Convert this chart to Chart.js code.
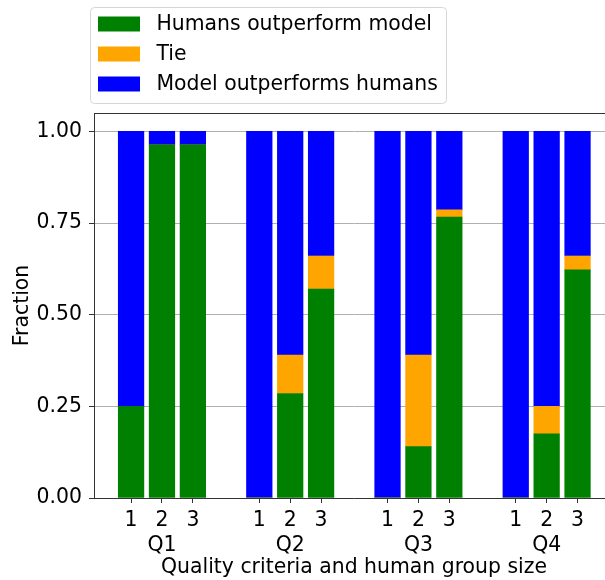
<!DOCTYPE html>
<html><head><meta charset="utf-8">
<script src="https://cdn.jsdelivr.net/npm/chart.js@4.4.0/dist/chart.umd.min.js"></script>
<style>html,body{margin:0;padding:0;overflow:hidden;background:#fff}
#wrap{width:614px;height:580px;position:relative}</style></head>
<body><div id="wrap"><canvas id="c"></canvas></div>
<script>
// ---- data ----
const groups = ['Q1', 'Q2', 'Q3', 'Q4'];
const groupSizes = ['1', '2', '3'];
const humansWin = [0.25, 0.963, 0.963, 0, 0.285, 0.57, 0, 0.14, 0.766, 0, 0.175, 0.622];
const ties      = [0, 0, 0, 0, 0.105, 0.09, 0, 0.25, 0.02, 0, 0.075, 0.038];
const modelWins = [0.75, 0.037, 0.037, 1, 0.61, 0.34, 1, 0.61, 0.214, 1, 0.75, 0.34];
const yTicks = [0, 0.25, 0.5, 0.75, 1.0];
const seriesLabels = ['Humans outperform model', 'Tie', 'Model outperforms humans'];
const seriesColors = ['#008000', '#ffa500', '#0000ff'];

// ---- layout ----
const GROUP_STEP = 4.15;
const FONT = 'DejaVu Sans';
const FS = 20.4;
const positions = [];
groups.forEach((g, gi) => groupSizes.forEach((s, j) => positions.push(gi * GROUP_STEP + j)));
const toPoints = arr => arr.map((v, i) => ({x: positions[i], y: v}));

const legendPlugin = {
  id: 'boxLegend',
  afterDraw(chart) {
    const ctx = chart.ctx;
    ctx.save();
    const bx = 90.5, by = 7.5, bw = 356, bh = 96, r = 4;
    ctx.beginPath();
    ctx.moveTo(bx + r, by);
    ctx.arcTo(bx + bw, by, bx + bw, by + bh, r);
    ctx.arcTo(bx + bw, by + bh, bx, by + bh, r);
    ctx.arcTo(bx, by + bh, bx, by, r);
    ctx.arcTo(bx, by, bx + bw, by, r);
    ctx.closePath();
    ctx.fillStyle = 'rgba(255,255,255,0.8)';
    ctx.fill();
    ctx.strokeStyle = '#d6d6d6';
    ctx.lineWidth = 1;
    ctx.stroke();
    ctx.font = FS + 'px "' + FONT + '"';
    ctx.textBaseline = 'middle';
    ctx.textAlign = 'left';
    chart.data.datasets.forEach((ds, i) => {
      const cy = 24 + i * 30;
      ctx.fillStyle = ds.backgroundColor;
      ctx.fillRect(98, cy - 7.5, 42, 15);
      ctx.fillStyle = '#000';
      ctx.fillText(ds.label, 156.5, cy + 1);
    });
    // top spine
    const a = chart.chartArea;
    ctx.strokeStyle = '#333';
    ctx.beginPath();
    ctx.moveTo(a.left, a.top + 0.5);
    ctx.lineTo(a.right, a.top + 0.5);
    ctx.stroke();
    ctx.restore();
  }
};

new Chart(document.getElementById('c'), {
  type: 'bar',
  data: {
    datasets: [
      {label: seriesLabels[0], data: toPoints(humansWin), backgroundColor: seriesColors[0]},
      {label: seriesLabels[1], data: toPoints(ties), backgroundColor: seriesColors[1]},
      {label: seriesLabels[2], data: toPoints(modelWins), backgroundColor: seriesColors[2]}
    ]
  },
  options: {
    responsive: true,
    maintainAspectRatio: false,
    animation: false,
    devicePixelRatio: 1,
    layout: {padding: {top: 113, left: 0, right: 0, bottom: 0}},
    datasets: {bar: {barThickness: 25.6, borderWidth: 0}},
    plugins: {legend: {display: false}, tooltip: {enabled: false}},
    scales: {
      x: {
        type: 'linear', stacked: true, offset: false,
        min: -1.2, max: 15.63,
        grid: {display: true, drawOnChartArea: false, drawTicks: true, tickLength: 5, tickColor: '#333', offset: false},
        border: {display: true, color: '#333', width: 1},
        afterBuildTicks: s => { s.ticks = positions.map(v => ({value: v})); },
        afterFit: s => { s.height = 82; },
        ticks: {
          autoSkip: false, maxRotation: 0, minRotation: 0, padding: 5, color: '#000',
          font: {family: FONT, size: FS, lineHeight: 1.22},
          callback: (v, i) => {
            const j = i % 3, g = Math.floor(i / 3);
            return j === 1 ? [groupSizes[j], groups[g]] : groupSizes[j];
          }
        },
        title: {display: true, text: 'Quality criteria and human group size', color: '#000',
                font: {family: FONT, size: FS}, padding: {top: 0, bottom: 0}}
      },
      y: {
        type: 'linear', stacked: true, min: 0, max: 1.05, z: 1,
        grid: {color: '#b0b0b0', lineWidth: 1, tickLength: 5, tickColor: '#333'},
        border: {display: true, color: '#333', width: 1},
        afterBuildTicks: s => { s.ticks = yTicks.map(v => ({value: v})); },
        afterFit: s => { s.width = 94; },
        ticks: {padding: 7, color: '#000', font: {family: FONT, size: FS},
                callback: v => Number(v).toFixed(2)},
        title: {display: true, text: 'Fraction', color: '#000',
                font: {family: FONT, size: FS}, padding: {top: 10, bottom: 0}}
      }
    }
  },
  plugins: [legendPlugin]
});
</script>
</body></html>
